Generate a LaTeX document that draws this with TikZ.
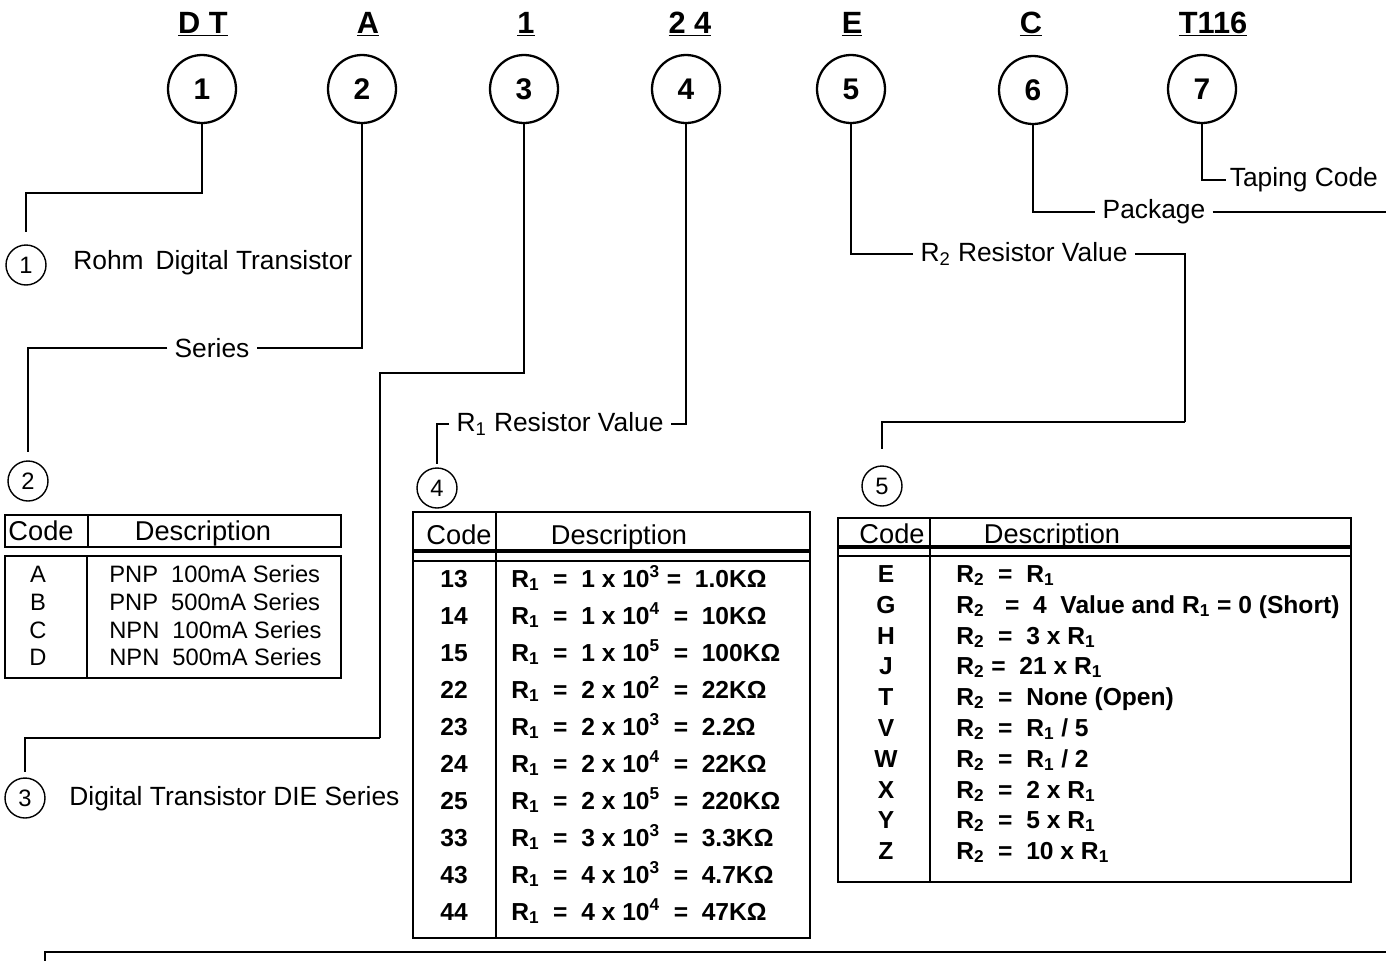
\documentclass[tikz,border=0pt]{standalone}
\usepackage{fontspec}
\setmainfont{Liberation Sans}
\usetikzlibrary{positioning,calc}
\newcommand{\setfs}[1]{\fontsize{#1}{#1}\selectfont}
\newcommand{\Rsub}[1]{R\textsubscript{#1}}
\tikzset{
    partcode/.style={font=\bfseries\setfs{17.5}, anchor=base, inner sep=0pt},
    bigball/.style={circle, draw, line width=1.3pt, minimum size=1.36cm, inner sep=0pt,
        font=\bfseries\setfs{17}},
    smallball/.style={circle, draw, line width=0.8pt, minimum size=0.8cm, inner sep=0pt,
        font=\setfs{13.5}},
    leader/.style={draw, line width=1pt},
    callout/.style={font=\setfs{15}, inner sep=4pt},
    tbl/.style={draw, line width=1pt},
    tblrule/.style={draw, line width=1.8pt},
    thead/.style={font=\setfs{15.5}, inner sep=1pt, anchor=mid, yshift=-2.5pt},
    scode/.style={font=\setfs{13.5}, inner sep=0pt, anchor=mid, yshift=-2.5pt},
    sdesc/.style={font=\setfs{13.5}, inner sep=0pt, anchor=mid west, yshift=-2.5pt},
    bcode/.style={font=\bfseries\setfs{14}, inner sep=0pt, anchor=mid, yshift=-2.5pt},
    bdesc/.style={font=\bfseries\setfs{14}, inner sep=0pt, anchor=mid west, yshift=-2.5pt}
}

\begin{document}
\begin{tikzpicture}[x=0.02cm, y=-0.02cm]

    \useasboundingbox (0,0) rectangle (1386,961);

    % =========================================================================
    % 1. PART NUMBER AND NUMBERED CIRCLES
    % =========================================================================
    \node[partcode] (pDT)   at (203,33)  {\underline{D T}};
    \node[partcode] (pA)    at (368,33)  {\underline{A}};
    \node[partcode] (pOne)  at (526,33)  {\underline{1}};
    \node[partcode] (pTF)   at (690,33)  {\underline{2 4}};
    \node[partcode] (pE)    at (852,33)  {\underline{E}};
    \node[partcode] (pC)    at (1031,33) {\underline{C}};
    \node[partcode] (pT)    at (1213,33) {\underline{T116}};

    \node[bigball] (c1) at (202,89)  {1};
    \node[bigball] (c2) at (362,89)  {2};
    \node[bigball] (c3) at (524,89)  {3};
    \node[bigball] (c4) at (686,89)  {4};
    \node[bigball] (c5) at (851,89)  {5};
    \node[bigball] (c6) at (1033,90) {6};
    \node[bigball] (c7) at (1202,89) {7};

    % =========================================================================
    % 2. SMALL CIRCLES AND CALLOUT TEXTS
    % =========================================================================
    \node[smallball] (s1) at (26,265)  {1};
    \node[smallball] (s2) at (28,481)  {2};
    \node[smallball] (s3) at (25,798)  {3};
    \node[smallball] (s4) at (437,488) {4};
    \node[smallball] (s5) at (882,486) {5};

    \node[callout, anchor=mid west] (lRohm) at (66,265) {Rohm\hspace{0.45em}Digital Transistor};
    \node[callout] (lSeries) at (212,348) {Series};
    \node[callout, anchor=mid west] (lDIE) at (62,801) {Digital Transistor DIE Series};
    \node[callout] (lRone) at (560,424) {\Rsub{1} Resistor Value};
    \node[callout] (lRtwo) at (1024,254) {\Rsub{2} Resistor Value};
    \node[callout] (lPkg) at (1154,212) {Package};
    \node[callout, anchor=west, inner sep=2pt] (lTape) at (1226,180) {Taping Code};

    \coordinate (b1) at (0,193);
    \coordinate (b3a) at (380,373);
    \coordinate (b3b) at (380,738);
    \coordinate (b5) at (1185,422);
    \coordinate (e6) at (1386,213);

    % =========================================================================
    % 3. LEADER LINES
    % =========================================================================
    \draw[leader, shorten >=7pt] (c1.south) -- (c1.south |- b1) -| (s1.north);
    \draw[leader] (c2.south) |- (lSeries.east);
    \draw[leader, shorten >=5pt] (lSeries.west) -| (s2.north);
    \draw[leader] (c3.south) |- (b3a) -- (b3b);
    \draw[leader, shorten >=3pt] (b3b) -| (s3.north);
    \draw[leader] (c4.south) |- (lRone.east);
    \draw[leader, shorten >=2pt] (lRone.west) -| (s4.north);
    \draw[leader] (c5.south) |- (lRtwo.west);
    \draw[leader] (lRtwo.east) -| (b5);
    \draw[leader, shorten >=9pt] (b5) -| (s5.north);
    \draw[leader] (c6.south) |- (lPkg.west);
    \draw[leader] (lPkg.east) -- (lPkg.east -| e6);
    \draw[leader] (c7.south) |- (lTape.west);

    % =========================================================================
    % 4. SERIES TABLE
    % =========================================================================
    \draw[tbl] (5,515) rectangle (341,547);
    \draw[tbl] (88,515) -- (88,547);
    \draw[tbl] (5,556) rectangle (341,678);
    \draw[tbl] (87,556) -- (87,678);
    \node[thead] (sCode) at (41,531) {Code};
    \node[thead] (sDesc) at (203,531) {Description};

    \node[scode] (sA) at (38,573) {A};
    \node[scode] (sB) at (38,601) {B};
    \node[scode] (sC) at (38,629) {C};
    \node[scode] (sD) at (38,656) {D};
    \node[sdesc] (dA) at (109,573) {PNP\hspace{0.55em}100mA Series};
    \node[sdesc] (dB) at (109,601) {PNP\hspace{0.55em}500mA Series};
    \node[sdesc] (dC) at (109,629) {NPN\hspace{0.55em}100mA Series};
    \node[sdesc] (dD) at (109,656) {NPN\hspace{0.55em}500mA Series};

    % =========================================================================
    % 5. R1 RESISTOR TABLE
    % =========================================================================
    \draw[tbl] (413,512) rectangle (810,938);
    \draw[tblrule] (413,551) -- (810,551);
    \draw[tbl] (413,561) -- (810,561);
    \draw[tbl] (496,512) -- (496,938);
    \node[thead] (rCode) at (459,535) {Code};
    \node[thead] (rDesc) at (619,535) {Description};

    \node[bcode] (r13) at (454,578) {13};
    \node[bcode] (r14) at (454,615) {14};
    \node[bcode] (r15) at (454,652) {15};
    \node[bcode] (r22) at (454,689) {22};
    \node[bcode] (r23) at (454,726) {23};
    \node[bcode] (r24) at (454,763) {24};
    \node[bcode] (r25) at (454,800) {25};
    \node[bcode] (r33) at (454,837) {33};
    \node[bcode] (r43) at (454,874) {43};
    \node[bcode] (r44) at (454,911) {44};
    \node[bdesc] (v13) at (511,578) {\Rsub{1}~ = ~1 x 10\textsuperscript{3} = ~1.0KΩ};
    \node[bdesc] (v14) at (511,615) {\Rsub{1}~ = ~1 x 10\textsuperscript{4} ~= ~10KΩ};
    \node[bdesc] (v15) at (511,652) {\Rsub{1}~ = ~1 x 10\textsuperscript{5} ~= ~100KΩ};
    \node[bdesc] (v22) at (511,689) {\Rsub{1}~ = ~2 x 10\textsuperscript{2} ~= ~22KΩ};
    \node[bdesc] (v23) at (511,726) {\Rsub{1}~ = ~2 x 10\textsuperscript{3} ~= ~2.2Ω};
    \node[bdesc] (v24) at (511,763) {\Rsub{1}~ = ~2 x 10\textsuperscript{4} ~= ~22KΩ};
    \node[bdesc] (v25) at (511,800) {\Rsub{1}~ = ~2 x 10\textsuperscript{5} ~= ~220KΩ};
    \node[bdesc] (v33) at (511,837) {\Rsub{1}~ = ~3 x 10\textsuperscript{3} ~= ~3.3KΩ};
    \node[bdesc] (v43) at (511,874) {\Rsub{1}~ = ~4 x 10\textsuperscript{3} ~= ~4.7KΩ};
    \node[bdesc] (v44) at (511,911) {\Rsub{1}~ = ~4 x 10\textsuperscript{4} ~= ~47KΩ};

    % =========================================================================
    % 6. R2 RESISTOR TABLE
    % =========================================================================
    \draw[tbl] (838,518) rectangle (1351,882);
    \draw[tblrule] (838,547) -- (1351,547);
    \draw[tbl] (838,556) -- (1351,556);
    \draw[tbl] (930,518) -- (930,882);
    \node[thead] (qCode) at (892,534) {Code};
    \node[thead] (qDesc) at (1052,534) {Description};

    \node[bcode] (qE) at (886,573) {E};
    \node[bcode] (qG) at (886,604) {G};
    \node[bcode] (qH) at (886,635) {H};
    \node[bcode] (qJ) at (886,665) {J};
    \node[bcode] (qT) at (886,696) {T};
    \node[bcode] (qV) at (886,727) {V};
    \node[bcode] (qW) at (886,758) {W};
    \node[bcode] (qX) at (886,789) {X};
    \node[bcode] (qY) at (886,819) {Y};
    \node[bcode] (qZ) at (886,850) {Z};
    \node[bdesc] (wE) at (956,573) {\Rsub{2} ~= ~\Rsub{1}};
    \node[bdesc] (wG) at (956,604) {\Rsub{2} ~ = ~4 ~Value and \Rsub{1} = 0 (Short)};
    \node[bdesc] (wH) at (956,635) {\Rsub{2} ~= ~3 x \Rsub{1}};
    \node[bdesc] (wJ) at (956,665) {\Rsub{2} = ~21 x \Rsub{1}};
    \node[bdesc] (wT) at (956,696) {\Rsub{2} ~= ~None (Open)};
    \node[bdesc] (wV) at (956,727) {\Rsub{2} ~= ~\Rsub{1} / 5};
    \node[bdesc] (wW) at (956,758) {\Rsub{2} ~= ~\Rsub{1} / 2};
    \node[bdesc] (wX) at (956,789) {\Rsub{2} ~= ~2 x \Rsub{1}};
    \node[bdesc] (wY) at (956,819) {\Rsub{2} ~= ~5 x \Rsub{1}};
    \node[bdesc] (wZ) at (956,850) {\Rsub{2} ~= ~10 x \Rsub{1}};

    % =========================================================================
    % 7. LOWER FRAME EDGE
    % =========================================================================
    \draw[tbl] (1386,952) -- (45,952) -- (45,961);

\end{tikzpicture}
\end{document}
